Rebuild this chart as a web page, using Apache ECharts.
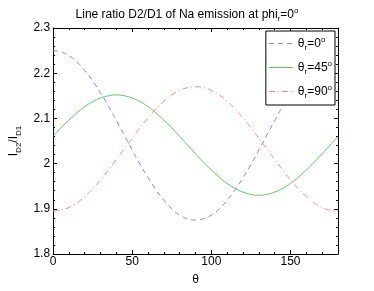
<!DOCTYPE html>
<html><head><meta charset="utf-8">
<script src="https://cdn.jsdelivr.net/npm/echarts@6/dist/echarts.min.js"></script>
<style>html,body{margin:0;padding:0;background:#fff}#c{width:374px;height:291px}</style>
</head><body><div id="c"></div>
<script>
const theta = [0,5,10,15,20,25,30,35,40,45,50,55,60,65,70,75,80,85,90,95,100,105,110,115,120,125,130,135,140,145,150,155,160,165,170,175,180];
const ratioR0 = [2.250,2.247,2.239,2.225,2.206,2.183,2.156,2.127,2.095,2.063,2.030,1.998,1.969,1.942,1.919,1.900,1.886,1.878,1.875,1.878,1.886,1.900,1.919,1.942,1.969,1.998,2.030,2.063,2.095,2.127,2.156,2.183,2.206,2.225,2.239,2.247,2.250];
const ratioR45 = [2.060,2.079,2.096,2.112,2.126,2.137,2.145,2.150,2.152,2.150,2.145,2.137,2.126,2.112,2.096,2.079,2.060,2.041,2.022,2.003,1.986,1.970,1.956,1.945,1.937,1.932,1.930,1.932,1.937,1.945,1.956,1.970,1.986,2.003,2.022,2.041,2.060];
const ratioR90 = [1.895,1.897,1.903,1.913,1.927,1.944,1.964,1.986,2.009,2.033,2.056,2.080,2.101,2.121,2.138,2.152,2.162,2.168,2.170,2.168,2.162,2.152,2.138,2.121,2.101,2.080,2.056,2.033,2.009,1.986,1.964,1.944,1.927,1.913,1.903,1.897,1.895];
const seriesNames = ['r0','r45','r90'];
const legendAngles = ['0','45','90'];
const yTickLabels = {'1.8':'1.8','1.9':'1.9','2':'2','2.1':'2.1','2.2':'2.2','2.3':'2.3'};

const styles = [
  {color:'#7f7fff',type:[5,4],icon:'path://M0 0H5V1H0Z M9 0H14V1H9Z M18 0H23V1H18Z M23.9 0H24V1H23.9Z'},
  {color:'#5cc85c',type:'solid',icon:'path://M0 0H24V1H0Z'},
  {color:'#ff7f7f',type:[6,3,1,3],icon:'path://M0 0H6V1H0Z M9 0H10V1H9Z M13 0H19V1H13Z M22 0H23V1H22Z M23.9 0H24V1H23.9Z'}
];
const pairs = a => theta.map((t,i)=>[t,a[i]]);
const font = 'Liberation Sans, Arial, sans-serif';
const chart = echarts.init(document.getElementById('c'));
const axisCommon = {
  axisLine:{show:true,onZero:false,lineStyle:{color:'#000',width:1}},
  axisTick:{show:true,inside:true,length:4,lineStyle:{color:'#000'}},
  minorTick:{show:true,splitNumber:5,length:2,lineStyle:{color:'#000'}},
  splitLine:{show:false}
};
const rich = {
  a:{fontFamily:font,fontSize:12,color:'#000'},
  s:{fontFamily:font,fontSize:8,color:'#000',padding:[9,0,0,0]},
  p:{fontFamily:font,fontSize:8,color:'#000',padding:[0,0,7,0]}
};
chart.setOption({
  animation:false,
  title:{
    text:'{a|Line ratio D2/D1 of Na emission at phi}{s|r}{a|=0}{p|o}',
    left:'center', top:1,
    textStyle:{fontWeight:'normal',rich:rich}
  },
  grid:{left:48,right:36,top:28,bottom:34},
  legend:{
    right:39, top:31, orient:'vertical',
    backgroundColor:'#fff', borderColor:'#000', borderWidth:1,
    padding:[5,3,5,3], itemGap:8, itemWidth:24, itemHeight:2,
    data:seriesNames.map((n,i)=>({name:n,icon:styles[i].icon,
      itemStyle:{color:styles[i].color,borderWidth:0,opacity:1}})),
    formatter: n => '{a|θ}{s|r}{a|='+legendAngles[seriesNames.indexOf(n)]+'}{p|o}',
    textStyle:{rich:rich}
  },
  xAxis:[
    Object.assign({type:'value',min:0,max:180,interval:50,position:'bottom',
      name:'θ',nameLocation:'middle',nameGap:20,
      nameTextStyle:{fontFamily:font,fontSize:12,color:'#000'},
      axisLabel:{fontFamily:font,fontSize:12,color:'#000',margin:2,showMaxLabel:false}},axisCommon),
    Object.assign({type:'value',min:0,max:180,interval:50,position:'top',axisLabel:{show:false}},axisCommon)
  ],
  yAxis:[
    Object.assign({type:'value',min:1.8,max:2.3,interval:0.1,position:'left',
      name:'{a|I}{s|D2}{a|/I}{s|D1}',nameLocation:'middle',nameGap:26,nameRotate:90,
      nameTextStyle:{rich:rich},
      axisLabel:{fontFamily:font,fontSize:12,color:'#000',margin:3,
        formatter:v=>yTickLabels[String(Math.round(v*10)/10)]||''}},axisCommon),
    Object.assign({type:'value',min:1.8,max:2.3,interval:0.1,position:'right',axisLabel:{show:false}},axisCommon)
  ],
  series:[ratioR0,ratioR45,ratioR90].map((d,i)=>({
    name:seriesNames[i],type:'line',data:pairs(d),smooth:true,symbol:'none',
    lineStyle:{color:styles[i].color,width:1,type:styles[i].type},
    itemStyle:{color:styles[i].color}
  }))
});
</script></body></html>
